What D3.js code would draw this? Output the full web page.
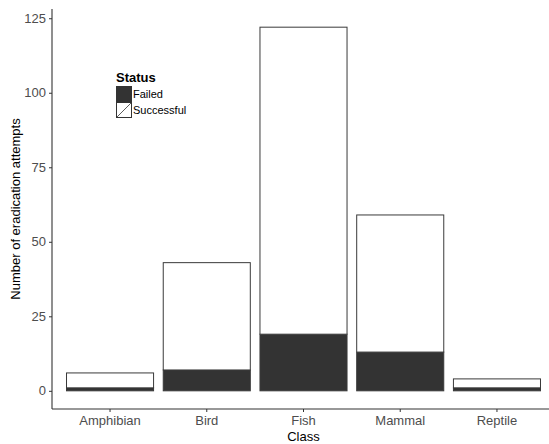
<!DOCTYPE html>
<html>
<head>
<meta charset="utf-8">
<script src="https://cdn.jsdelivr.net/npm/d3@7"></script>
<style>
  body { margin: 0; background: #fff; }
  svg { display: block; font-family: "Liberation Sans", Arial, sans-serif; }
</style>
</head>
<body>
<svg id="chart" width="549" height="444"></svg>
<script>
// Eradication attempts by taxonomic class, split by outcome
const classes = ["Amphibian", "Bird", "Fish", "Mammal", "Reptile"];
const failed = [1, 7, 19, 13, 1];
const successful = [5, 36, 103, 46, 3];
const statuses = ["Failed", "Successful"];
const yTicks = [0, 25, 50, 75, 100, 125];

const svg = d3.select("#chart");
const panel = { left: 52, right: 555, top: 9, bottom: 409 };

const totals = classes.map((c, i) => failed[i] + successful[i]);
const maxTotal = d3.max(totals);
const pad = maxTotal * 0.05;

const x = d3.scaleBand().domain(classes).range([panel.left, panel.right]).paddingInner(0.1).paddingOuter(0.15);
const y = d3.scaleLinear().domain([-pad, maxTotal + pad]).range([panel.bottom, panel.top]);

const fills = { Failed: "#333333", Successful: "#ffffff" };

// stacked bars: failed at the bottom, successful on top
const rows = classes.map((c, i) => ({ cls: c, Failed: failed[i], Successful: successful[i] }));
const stack = d3.stack().keys(statuses)(rows);

stack.forEach(layer => {
  svg.append("g").selectAll("rect").data(layer).join("rect")
    .attr("x", d => x(d.data.cls))
    .attr("width", x.bandwidth())
    .attr("y", d => y(d[1]))
    .attr("height", d => y(d[0]) - y(d[1]))
    .attr("fill", fills[layer.key])
    .attr("stroke", "#3a3a3a")
    .attr("stroke-width", 1);
});

// axes
const yAxis = d3.axisLeft(y).tickValues(yTicks).tickSize(3).tickPadding(3);
const gy = svg.append("g").attr("transform", `translate(${panel.left},0)`).call(yAxis);
gy.select(".domain").remove();
gy.append("line").attr("x1", 0).attr("x2", 0).attr("y1", panel.top).attr("y2", panel.bottom)
  .attr("stroke", "#333").attr("stroke-width", 1.1);
gy.selectAll(".tick line").attr("stroke", "#333");
gy.selectAll(".tick text").attr("fill", "#4d4d4d").style("font-size", "13px");

const xAxis = d3.axisBottom(x).tickSize(3).tickPadding(4);
const gx = svg.append("g").attr("transform", `translate(0,${panel.bottom})`).call(xAxis);
gx.select(".domain").remove();
gx.append("line").attr("x1", panel.left).attr("x2", panel.right).attr("y1", 0).attr("y2", 0)
  .attr("stroke", "#333").attr("stroke-width", 1.1);
gx.selectAll(".tick line").attr("stroke", "#333");
gx.selectAll(".tick text").attr("fill", "#4d4d4d").style("font-size", "13px");

// axis titles
svg.append("text").attr("x", x("Fish") + x.bandwidth() / 2).attr("y", 441)
  .attr("text-anchor", "middle").style("font-size", "13px").attr("fill", "#000").text("Class");
svg.append("text").attr("transform", `translate(20,${(panel.top + panel.bottom) / 2}) rotate(-90)`)
  .attr("text-anchor", "middle").style("font-size", "13px").attr("fill", "#000")
  .text("Number of eradication attempts");

// legend
const lg = svg.append("g").attr("transform", "translate(116,70)");
lg.append("text").attr("x", 0).attr("y", 12).style("font-size", "13px").style("font-weight", "bold")
  .attr("fill", "#000").text("Status");
statuses.forEach((s, i) => {
  const ky = 16 + i * 16;
  lg.append("rect").attr("x", 0.5).attr("y", ky + 0.5).attr("width", 15).attr("height", 15)
    .attr("fill", fills[s]).attr("stroke", "#333").attr("stroke-width", 1);
  lg.append("line").attr("x1", 1).attr("y1", ky + 15).attr("x2", 15).attr("y2", ky + 1)
    .attr("stroke", "#333").attr("stroke-width", 0.8);
  lg.append("text").attr("x", 17).attr("y", ky + 12).style("font-size", "11px")
    .attr("fill", "#000").text(s);
});
</script>
</body>
</html>
